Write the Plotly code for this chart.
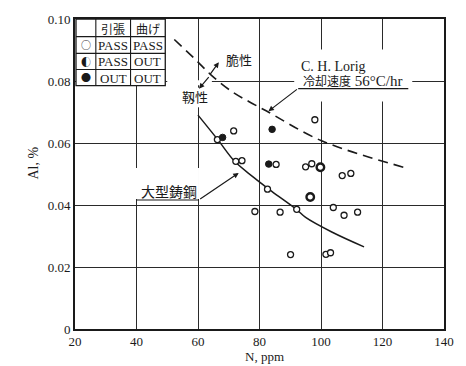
import plotly.graph_objects as go

# ---------------- data ----------------
open_N = [66.3, 71.6, 98.0, 72.3, 74.3, 85.4, 95.0, 97.0, 82.6, 78.5, 86.7, 92.1,
          104.0, 107.5, 111.9, 106.9, 109.7, 90.1, 101.6, 103.1]
open_Al = [0.0611, 0.0639, 0.0675, 0.0541, 0.0543, 0.0531, 0.0523, 0.0533, 0.0451,
           0.0379, 0.0377, 0.0386, 0.0392, 0.0367, 0.0377, 0.0495, 0.0502, 0.0240,
           0.0241, 0.0246]
half_N = [99.8, 96.5]
half_Al = [0.0522, 0.0426]
full_N = [68.0, 84.1, 83.0]
full_Al = [0.0618, 0.0644, 0.0532]

large_N = [60, 66.5, 72, 78, 84, 92, 95, 103.5, 114]
large_Al = [0.069, 0.061, 0.054, 0.049, 0.0444, 0.0386, 0.036, 0.0313, 0.0265]
lorig_N = [52.3, 59.4, 64.2, 71.0, 76.5, 82.3, 100.0, 126.8]
lorig_Al = [0.0934, 0.0867, 0.0820, 0.0766, 0.0734, 0.0703, 0.0608, 0.0522]

x_ticks = [20, 40, 60, 80, 100, 120, 140]
y_ticks = [0, 0.02, 0.04, 0.06, 0.08, 0.10]
y_ticktext = ["0", "0.02", "0.04", "0.06", "0.08", "0.10"]

table_header = ["", "引張", "曲げ"]
table_rows = [["○", "PASS", "PASS"], ["◐", "PASS", "OUT"], ["●", "OUT", "OUT"]]

SERIF = "Liberation Serif, Times New Roman, Noto Sans CJK JP, serif"
CJK = "Noto Sans CJK JP, sans-serif"

# plot-area geometry (pixels) -> paper coordinates
L, R, T, B = 75, 447, 13, 329
def PX(p):
    return (p - L) / (R - L)
def PY(p):
    return (B - p) / (B - T)

fig = go.Figure()

fig.add_trace(go.Scatter(x=lorig_N, y=lorig_Al, mode="lines", line_shape="spline",
                         line=dict(color="#1a1a1a", width=1.6, dash="10px,6px"),
                         showlegend=False, hoverinfo="skip"))
fig.add_trace(go.Scatter(x=large_N, y=large_Al, mode="lines", line_shape="spline",
                         line=dict(color="#1a1a1a", width=1.5),
                         showlegend=False, hoverinfo="skip"))
fig.add_trace(go.Scatter(x=open_N, y=open_Al, mode="markers",
                         marker=dict(symbol="circle", size=6, color="white",
                                     line=dict(color="#1a1a1a", width=1.3)),
                         showlegend=False))
fig.add_trace(go.Scatter(x=half_N, y=half_Al, mode="markers",
                         marker=dict(symbol="circle", size=7.5, color="white",
                                     line=dict(color="#1a1a1a", width=2.4)),
                         showlegend=False))
fig.add_trace(go.Scatter(x=full_N, y=full_Al, mode="markers",
                         marker=dict(symbol="circle", size=6.5, color="#1a1a1a",
                                     line=dict(color="#1a1a1a", width=1)),
                         showlegend=False))

shapes = []
# white areas behind labels (hide the grid there; no data marks inside them)
for (x0, y0, x1, y1) in [(296, 44, 415, 97), (136, 165, 200, 196.5),
                         (168, 75.5, 213, 80.5), (185, 83, 209, 103)]:
    shapes.append(dict(type="rect", xref="paper", yref="paper", x0=PX(x0), x1=PX(x1),
                       y0=PY(y1), y1=PY(y0), fillcolor="white", line=dict(width=0),
                       layer="above"))
# underlines of labels
shapes.append(dict(type="line", xref="paper", yref="paper", x0=PX(300), x1=PX(411),
                   y0=PY(84), y1=PY(84), line=dict(color="#1a1a1a", width=1.2),
                   layer="above"))
shapes.append(dict(type="line", xref="paper", yref="paper", x0=PX(137), x1=PX(200),
                   y0=PY(197.5), y1=PY(197.5), line=dict(color="#1a1a1a", width=1.2),
                   layer="above"))

# legend table
tx = [76, 96, 131, 166]
ty = [13, 31, 48, 64.5, 81]
shapes.append(dict(type="rect", xref="paper", yref="paper", x0=PX(tx[0]), x1=PX(tx[-1]),
                   y0=PY(ty[-1]), y1=PY(ty[0]), fillcolor="white",
                   line=dict(color="#1a1a1a", width=1.3), layer="above"))
for xv in tx[1:-1]:
    shapes.append(dict(type="line", xref="paper", yref="paper", x0=PX(xv), x1=PX(xv),
                       y0=PY(ty[-1]), y1=PY(ty[0]), line=dict(color="#1a1a1a", width=1.1),
                       layer="above"))
for yv in ty[1:-1]:
    shapes.append(dict(type="line", xref="paper", yref="paper", x0=PX(tx[0]), x1=PX(tx[-1]),
                       y0=PY(yv), y1=PY(yv), line=dict(color="#1a1a1a", width=1.1),
                       layer="above"))

annotations = []
def txt(s, px, py, size=13, family=SERIF, **kw):
    annotations.append(dict(text=s, xref="paper", yref="paper", x=PX(px), y=PY(py),
                            showarrow=False, xanchor="center", yanchor="middle",
                            font=dict(family=family, size=size, color="#1a1a1a"), **kw))

# table text
for j, h in enumerate(table_header):
    if h:
        txt(h, (tx[j] + tx[j + 1]) / 2, (ty[0] + ty[1]) / 2 + 0.5, size=12, family=CJK)
for i, row in enumerate(table_rows):
    for j, c in enumerate(row):
        if j == 0:
            txt(c, (tx[j] + tx[j + 1]) / 2, (ty[i + 1] + ty[i + 2]) / 2, size=10, family=CJK)
        else:
            txt(c, (tx[j] + tx[j + 1]) / 2, (ty[i + 1] + ty[i + 2]) / 2 + 0.5, size=13)

# labels
txt("脆性", 240, 54, size=13, family=CJK)
txt("靱性", 196, 92, size=13, family=CJK)
txt("C. H. Lorig", 336, 61, size=14)
txt("<span style='font-size:12px'>冷却速度</span> 56°C/hr", 355, 76.5, size=15)
txt("大型鋳鋼", 170, 188, size=14, family=CJK)
txt("Al, %", 33, 160, size=14, textangle=-90)
txt("N, ppm", 266, 357, size=13)

def arrow(hx, hy, ax, ay, head=2):
    annotations.append(dict(text="", xref="paper", yref="paper", x=PX(hx), y=PY(hy),
                            ax=ax, ay=ay, showarrow=True, arrowhead=head, arrowsize=0.9,
                            arrowwidth=1.2, arrowcolor="#1a1a1a"))

arrow(220, 57, -10, 14)
arrow(200, 84, 11, -13)
arrow(270, 107, 30, -23)
arrow(240, 170, -40, 27)

fig.update_layout(
    width=466, height=366,
    margin=dict(l=L, r=466 - R, t=T, b=366 - B),
    paper_bgcolor="white", plot_bgcolor="white",
    shapes=shapes, annotations=annotations,
    font=dict(family=SERIF, size=13, color="#1a1a1a"),
    showlegend=False,
)
fig.update_xaxes(range=[20, 140], tickvals=x_ticks, ticktext=[str(v) for v in x_ticks],
                 showgrid=True, gridcolor="#2a2a2a", gridwidth=1.1, zeroline=False,
                 showline=True, linecolor="#1a1a1a", linewidth=1.6, mirror=True,
                 ticks="", tickfont=dict(family=SERIF, size=13, color="#1a1a1a"))
fig.update_yaxes(range=[0, 0.10], tickvals=y_ticks, ticktext=y_ticktext,
                 showgrid=True, gridcolor="#2a2a2a", gridwidth=1.1, zeroline=False,
                 showline=True, linecolor="#1a1a1a", linewidth=1.6, mirror=True,
                 ticks="", tickfont=dict(family=SERIF, size=13, color="#1a1a1a"))

fig.write_html("out.html")
